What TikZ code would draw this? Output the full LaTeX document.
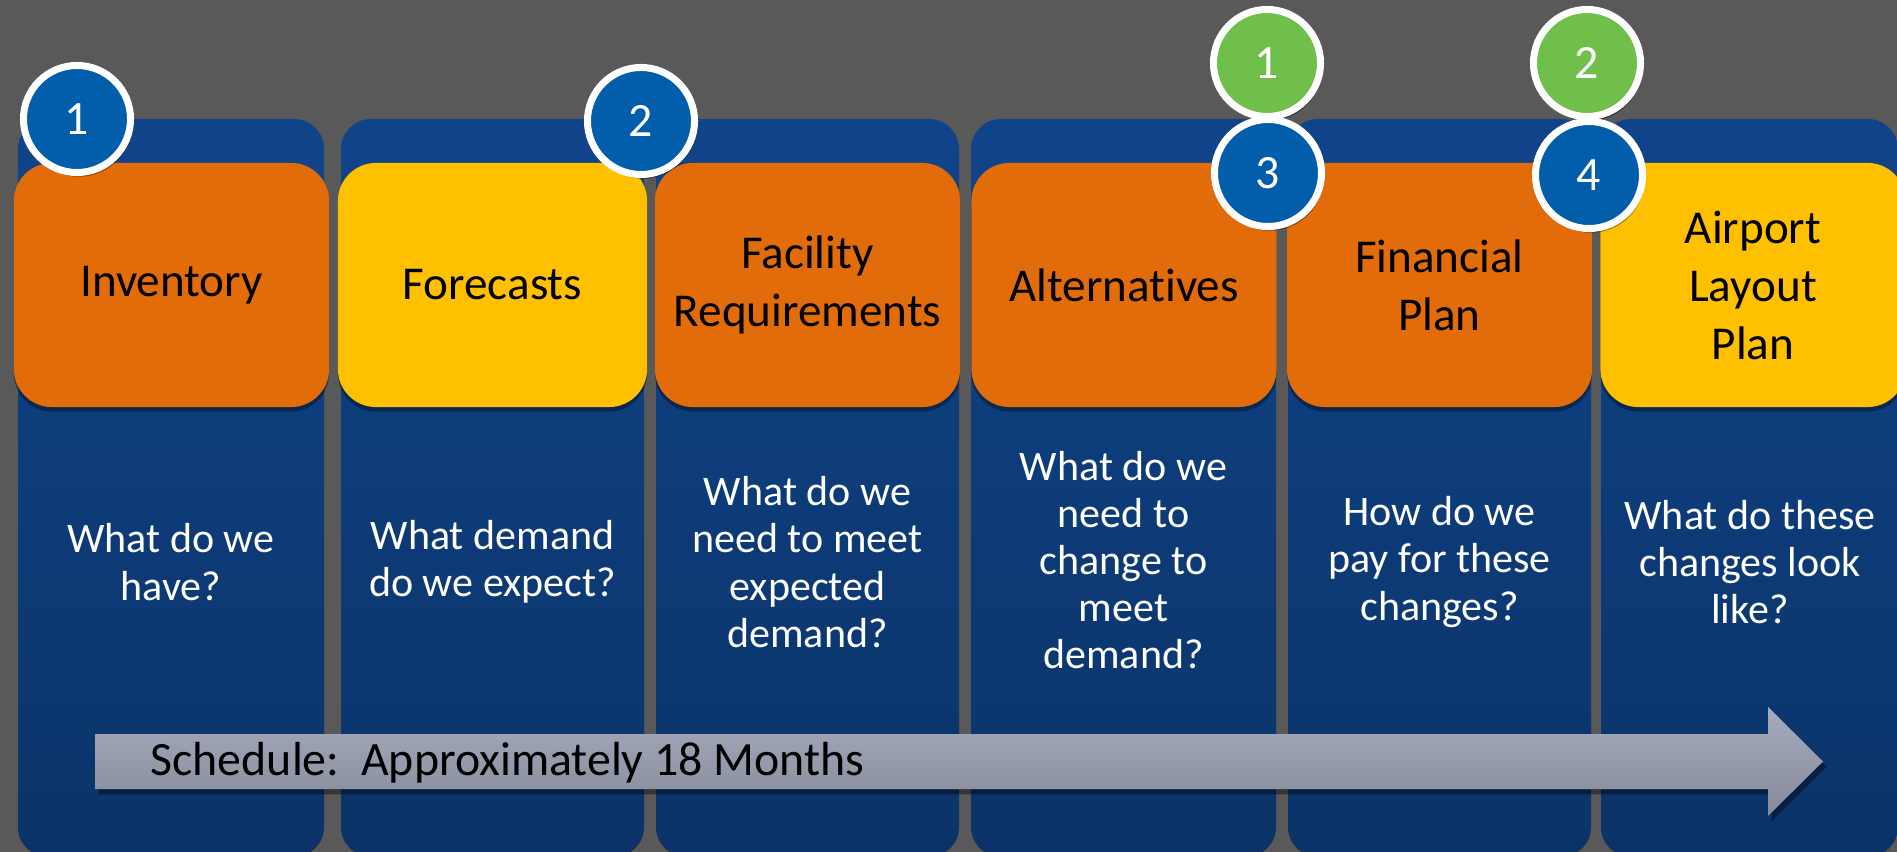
\documentclass[tikz,border=0pt]{standalone}
\usepackage{fontspec}
\setmainfont{Carlito}[Ligatures=CommonOff]
\usetikzlibrary{shadows}
\definecolor{bggray}{RGB}{89,89,89}
\definecolor{coltop}{RGB}{16,68,138}
\definecolor{colbot}{RGB}{11,51,104}
\definecolor{steporange}{RGB}{227,108,10}
\definecolor{stepyellow}{RGB}{255,192,0}
\definecolor{dotblue}{RGB}{2,93,170}
\definecolor{dotgreen}{RGB}{112,191,74}
\definecolor{arrtop}{RGB}{166,172,190}
\definecolor{arrbot}{RGB}{133,138,153}

\begin{document}
\begin{tikzpicture}[x=0.01cm, y=-0.01cm,
		column/.style={top color=coltop, bottom color=colbot, rounded corners=0.3cm},
		titlebox/.style={rounded corners=0.38cm, minimum width=3.05cm, minimum height=2.44cm, inner sep=0pt, align=center, text=black,
			font=\fontsize{13.4pt}{16.5pt}\selectfont, drop shadow={shadow xshift=0pt, shadow yshift=-1.3pt, opacity=0.35, fill=black}},
		question/.style={align=center, text=white, inner sep=0pt, font=\fontsize{11.95pt}{13.4pt}\selectfont},
		numdot/.style={circle, draw=white, line width=0.07cm, minimum size=1.07cm, inner sep=0pt, text=white,
			font=\fontsize{13.6pt}{16pt}\selectfont, drop shadow={shadow xshift=0.6pt, shadow yshift=-1.2pt, opacity=0.35, fill=black}}]
				\clip (0,0) rectangle (1897,852);
				\fill[bggray] (0,0) rectangle (1897,852);
				
				% columns
				\shade[column] (18,119) rectangle (324,857);
				\shade[column] (341,119) rectangle (644,857);
				\shade[column] (656,119) rectangle (959,857);
				\shade[column] (971,119) rectangle (1276,857);
				\shade[column] (1288,119) rectangle (1591,857);
				\shade[column] (1601,119) rectangle (1898,857);
				
				% step boxes
				\node[titlebox, fill=steporange, minimum width=3.15cm] (inv) at (171.5,285) {Inventory};
				\node[titlebox, fill=stepyellow, minimum width=3.09cm] (fore) at (492.5,285) {Forecasts};
				\node[titlebox, fill=steporange] (fac) at (807.5,285) {Facility\\Requirements};
				\node[titlebox, fill=steporange] (alt) at (1124,285) {Alternatives};
				\node[titlebox, fill=steporange] (fin) at (1439.5,285) {Financial\\Plan};
				\node[titlebox, fill=stepyellow] (alp) at (1753,285) {Airport\\Layout\\Plan};
				
				% questions
				\node[question] (q1) at (171,562) {What do we\\have?};
				\node[question] (q2) at (492.5,562) {What demand\\do we expect?};
				\node[question] (q3) at (807.5,562) {What do we\\need to meet\\expected\\demand?};
				\node[question] (q4) at (1123.5,560) {What do we\\need to\\change to\\meet\\demand?};
				\node[question] (q5) at (1439.5,562) {How do we\\pay for these\\changes?};
				\node[question] (q6) at (1750,562) {What do these\\changes look\\like?};
				
				% numbered dots
				\node[numdot, fill=dotblue] (b1) at (77,119) {1};
				\node[numdot, fill=dotblue] (b2) at (641,121) {2};
				\node[numdot, fill=dotgreen] (g1) at (1267,63) {1};
				\node[numdot, fill=dotgreen] (g2) at (1587,63) {2};
				\node[numdot, fill=dotblue] (b3) at (1268,173) {3};
				\node[numdot, fill=dotblue] (b4) at (1589,175) {4};
				
				% schedule arrow
				\shade[top color=arrtop, bottom color=arrbot, drop shadow={shadow xshift=1pt, shadow yshift=-1.5pt, opacity=0.4, fill=black}]
					(95,734) -- (1768,734) -- (1768,707) -- (1823,761.5) -- (1768,816) -- (1768,789) -- (95,789) -- cycle;
				\node[anchor=base west, inner sep=0pt, font=\fontsize{13.6pt}{16pt}\selectfont] (sched) at (150,775) {Schedule:\ \ Approximately 18 Months};
\end{tikzpicture}
\end{document}
